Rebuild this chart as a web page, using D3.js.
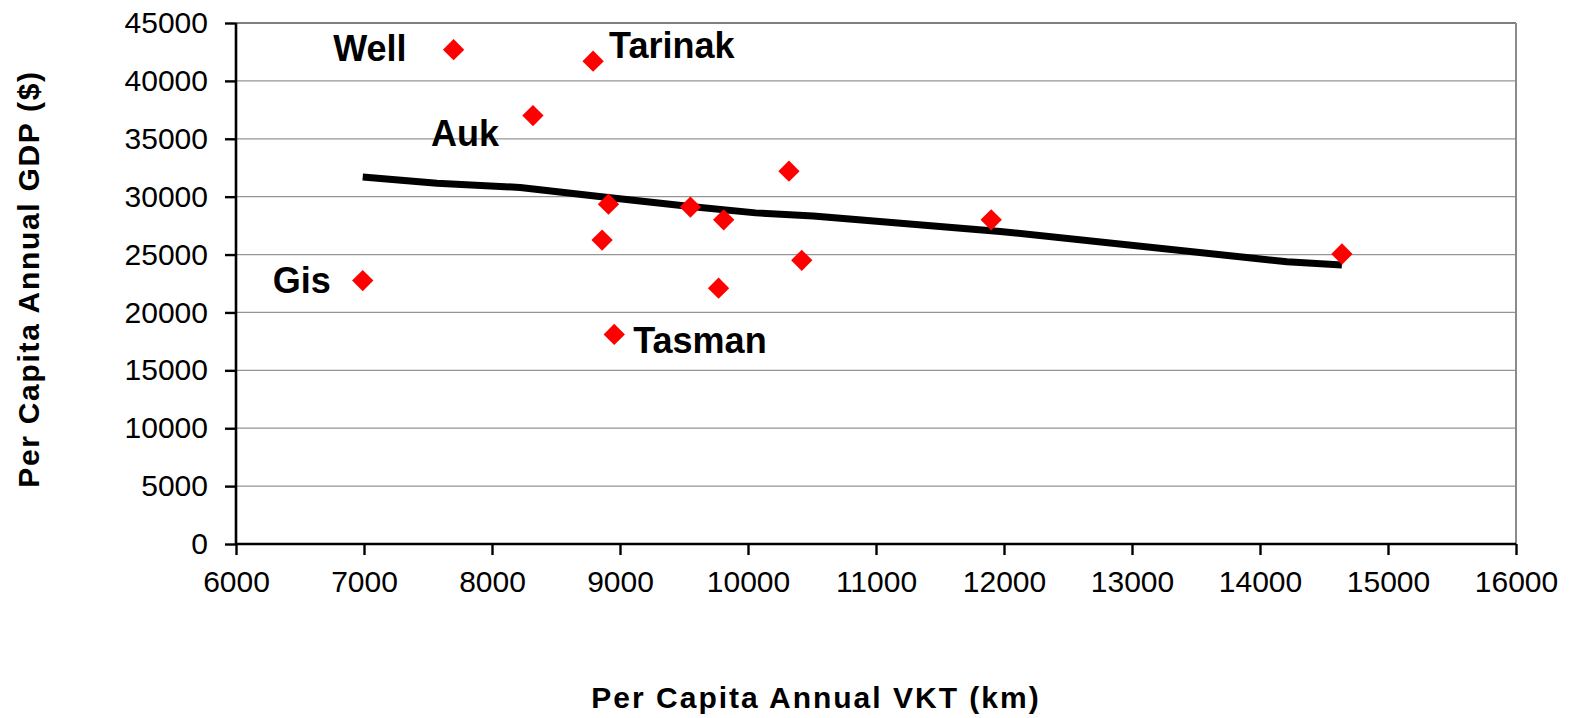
<!DOCTYPE html>
<html>
<head>
<meta charset="utf-8">
<script src="https://cdn.jsdelivr.net/npm/d3@7"></script>
<style>
  body { margin: 0; background: #fff; }
  svg { display: block; font-family: "Liberation Sans", Arial, sans-serif; }
</style>
</head>
<body>
<div id="chart-container"></div>
<script>
// data
const vkt = [6990, 7700, 8320, 8790, 8860, 8910, 8955, 9550, 9770, 9810, 10320, 10420, 11900, 14640]
const gdp = [22750, 42700, 37000, 41700, 26250, 29350, 18100, 29100, 22100, 28000, 32200, 24500, 28000, 25050]
const names = ['Gis', 'Well', 'Auk', 'Tarinak', '', '', 'Tasman', '', '', '', '', '', '', '']

// trend line vertices
const trendX = [6990, 7570, 8220, 8890, 9550, 10060, 10510, 11970, 14210, 14640]
const trendY = [31700, 31150, 30800, 29950, 29150, 28600, 28330, 27000, 24380, 24100]

const xTicks = [6000, 7000, 8000, 9000, 10000, 11000, 12000, 13000, 14000, 15000, 16000]
const yTicks = [0, 5000, 10000, 15000, 20000, 25000, 30000, 35000, 40000, 45000]

// label placement (offsets from the point, px)
const labelPos = {
  Gis: {dx: -32, dy: 12, anchor: 'end'},
  Well: {dx: -47, dy: 11, anchor: 'end'},
  Auk: {dx: -34, dy: 30, anchor: 'end'},
  Tarinak: {dx: 16, dy: -3, anchor: 'start'},
  Tasman: {dx: 19, dy: 19, anchor: 'start'}
}

const width = 1574
const height = 718
const margin = {left: 236, top: 23, right: 58, bottom: 174}
const plotWidth = width - margin.left - margin.right
const plotHeight = height - margin.top - margin.bottom

const points = vkt.map((v, i) => ({x: v, y: gdp[i], name: names[i]}))
const trend = trendX.map((v, i) => [v, trendY[i]])

const svg = d3.select('#chart-container')
  .append('svg')
  .attr('width', width)
  .attr('height', height)

const container = svg.append('g')
  .attr('transform', `translate(${margin.left}, ${margin.top})`)

const xScale = d3.scaleLinear().domain([6000, 16000]).range([0, plotWidth])
const yScale = d3.scaleLinear().domain([0, 45000]).range([plotHeight, 0])

// gridlines
container.append('g')
  .selectAll('line')
  .data(yTicks.filter(d => d > 0))
  .join('line')
  .attr('x1', 0)
  .attr('x2', plotWidth)
  .attr('y1', d => yScale(d))
  .attr('y2', d => yScale(d))
  .attr('stroke', d => d === 45000 ? '#7f7f7f' : '#959595')
  .attr('stroke-width', d => d === 45000 ? 2.2 : 1.3)

// right border
container.append('line')
  .attr('x1', plotWidth).attr('x2', plotWidth)
  .attr('y1', 0).attr('y2', plotHeight)
  .attr('stroke', '#8a8a8a')
  .attr('stroke-width', 2)

// axes
const yAxis = d3.axisLeft(yScale).tickValues(yTicks).tickSize(11).tickPadding(17)
  .tickFormat(d3.format('d'))
const gy = container.append('g').call(yAxis)
const xAxis = d3.axisBottom(xScale).tickValues(xTicks).tickSize(11).tickPadding(16)
  .tickFormat(d3.format('d'))
const gx = container.append('g')
  .attr('transform', `translate(0, ${plotHeight})`)
  .call(xAxis)

;[gx, gy].forEach(g => {
  g.select('.domain').attr('stroke', '#000').attr('stroke-width', 2.6)
  g.selectAll('.tick line').attr('stroke', '#000').attr('stroke-width', 2.4)
  g.selectAll('.tick text')
    .attr('fill', '#000')
    .style('font-size', '30px')
    .style('font-family', '"Liberation Sans", Arial, sans-serif')
})
gy.select('.domain').attr('d', `M0,${plotHeight}V0`)
gx.select('.domain').attr('d', `M0,0H${plotWidth}`)

// trend line
const line = d3.line()
  .x(d => xScale(d[0]))
  .y(d => yScale(d[1]))
container.append('path')
  .datum(trend)
  .attr('d', line)
  .attr('fill', 'none')
  .attr('stroke', '#000')
  .attr('stroke-width', 7)
  .attr('stroke-linejoin', 'round')

// points
const diamond = d3.symbol().type(d3.symbolDiamond2).size(290)
container.append('g')
  .selectAll('path')
  .data(points)
  .join('path')
  .attr('d', diamond)
  .attr('transform', d => `translate(${xScale(d.x)}, ${yScale(d.y)})`)
  .attr('fill', '#ff0000')

// point labels
container.append('g')
  .selectAll('text')
  .data(points.filter(d => d.name))
  .join('text')
  .attr('x', d => xScale(d.x) + labelPos[d.name].dx)
  .attr('y', d => yScale(d.y) + labelPos[d.name].dy)
  .attr('text-anchor', d => labelPos[d.name].anchor)
  .style('font-size', '36px')
  .style('font-weight', 'bold')
  .text(d => d.name)

// axis titles
svg.append('text')
  .attr('x', 816)
  .attr('y', 708)
  .attr('text-anchor', 'middle')
  .style('font-size', '30px')
  .style('font-weight', 'bold')
  .style('letter-spacing', '2px')
  .text('Per Capita Annual VKT (km)')

svg.append('text')
  .attr('transform', 'translate(39, 279) rotate(-90)')
  .attr('text-anchor', 'middle')
  .style('font-size', '30px')
  .style('font-weight', 'bold')
  .style('letter-spacing', '1.7px')
  .text('Per Capita Annual GDP ($)')
</script>
</body>
</html>
